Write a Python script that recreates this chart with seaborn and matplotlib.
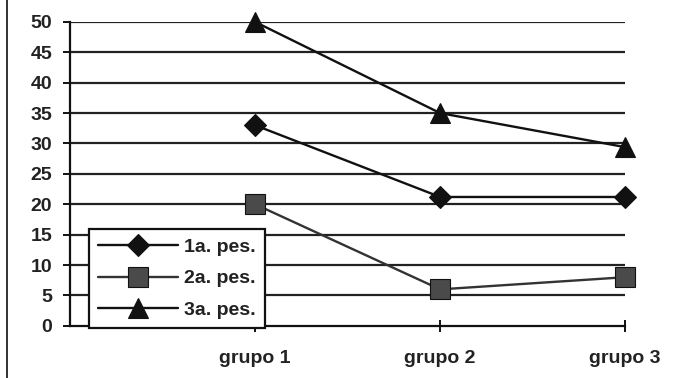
import numpy as np
import pandas as pd
import seaborn as sns
import matplotlib.pyplot as plt
from matplotlib.lines import Line2D

grupos = ["grupo 1", "grupo 2", "grupo 3"]
pes1 = [33, 21.2, 21.2]
pes2 = [20, 6, 8]
pes3 = [50, 35, 29.4]
series_names = ["1a. pes.", "2a. pes.", "3a. pes."]

sns.set_style("white")
plt.rcParams['font.family'] = ['Liberation Sans', 'DejaVu Sans']

df = pd.DataFrame({
    "grupo": grupos * 3,
    "valor": pes1 + pes2 + pes3,
    "serie": [series_names[0]] * 3 + [series_names[1]] * 3 + [series_names[2]] * 3,
})

fig = plt.figure(figsize=(6.81, 3.78), dpi=100)
ax = fig.add_axes([0.103, 0.138, 0.815, 0.804])

# horizontal gridlines drawn under the data
for yv in range(5, 55, 5):
    ax.axhline(yv, color="#222222", lw=1.6, zorder=1)

styles = {
    "1a. pes.": dict(marker="D", color="#111111", mfc="#111111", ms=11.5),
    "2a. pes.": dict(marker="s", color="#333333", mfc="#4a4a4a", ms=15),
    "3a. pes.": dict(marker="^", color="#111111", mfc="#111111", ms=15),
}
for name in series_names:
    sub = df[df.serie == name]
    st = styles[name]
    sns.lineplot(data=sub, x="grupo", y="valor", ax=ax, color=st["color"], lw=1.7,
                 marker=st["marker"], markersize=st["ms"], markerfacecolor=st["mfc"],
                 markeredgecolor="#111111", markeredgewidth=0.8, label=name,
                 sort=False, zorder=3, clip_on=False)

ax.set_xlim(-1, 2)
ax.set_ylim(0, 50)
ax.set_yticks(range(0, 55, 5))
ax.set_xticks([0, 1, 2])
ax.set_xticklabels(grupos)
ax.set_xlabel("")
ax.set_ylabel("")

for s in ["top", "right"]:
    ax.spines[s].set_visible(False)
for s in ["left", "bottom"]:
    ax.spines[s].set_color("#111111")
    ax.spines[s].set_linewidth(1.6)

ax.tick_params(axis="y", direction="out", length=5, width=1.4, color="#111111",
               labelsize=14, pad=8, left=True)
ax.tick_params(axis="x", direction="inout", length=9, width=1.4, color="#111111",
               labelsize=14, pad=13, bottom=True)
for lab in ax.get_xticklabels() + ax.get_yticklabels():
    lab.set_fontweight("bold")
    lab.set_color("#222222")

leg = ax.legend(loc="lower left", bbox_to_anchor=(0.034, -0.008), frameon=True,
                fancybox=False, edgecolor="#111111", framealpha=1, fontsize=14,
                handlelength=4.1, handletextpad=0.3, labelspacing=0.72,
                borderpad=0.48, borderaxespad=0)
leg.get_frame().set_linewidth(1.6)
for t in leg.get_texts():
    t.set_fontweight("bold")
    t.set_color("#222222")
leg.set_zorder(5)

# outer frame edge of the scanned chart
fig.add_artist(Line2D([0.011, 0.011], [0, 1], transform=fig.transFigure,
                      color="#333333", lw=1.4))

fig.savefig("out.png", dpi=100)
